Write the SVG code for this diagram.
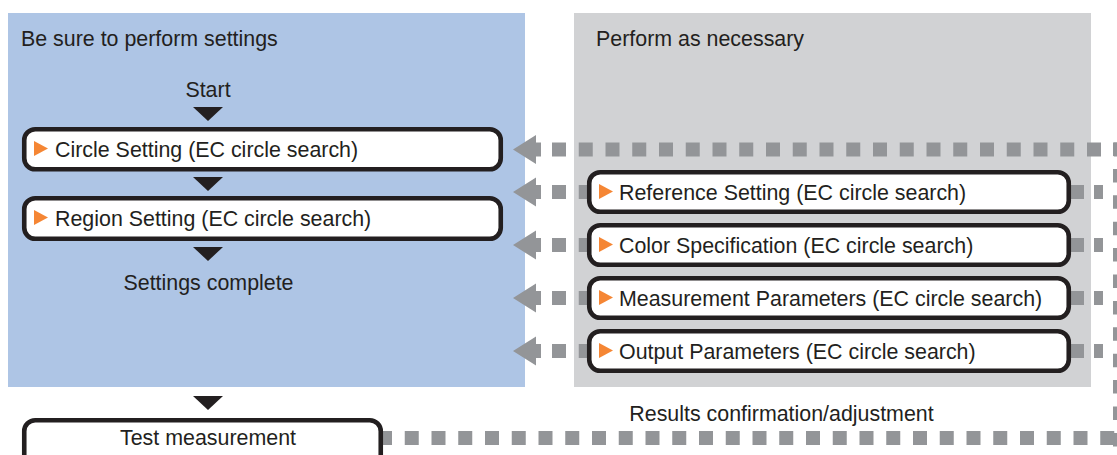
<svg xmlns="http://www.w3.org/2000/svg" width="1117" height="455" viewBox="0 0 1117 455">
<style>
.t{font-family:"Liberation Sans",Arial,sans-serif;font-size:21.4px;fill:#231f20}
.c{text-anchor:middle}
.box{fill:#fff;stroke:#231f20;stroke-width:4.6}
.tri{fill:#231f20}
.or{fill:#f58634}
.dash{stroke:#939598;stroke-width:14;fill:none;stroke-dasharray:14 12.75}
.g{fill:#939598}
</style>
<defs>
<polygon id="ah" points="0,0 23,-14.5 23,-7 28,-7 28,7 23,7 23,14.5" class="g"/>
<polygon id="ot" points="0,-7.5 14,0 0,7.5" class="or"/>
</defs>
<g id="panels">
<rect x="8" y="13" width="517" height="374" fill="#aec5e5"/>
<rect x="574" y="13" width="517" height="374" fill="#d1d2d4"/>
<text class="t" x="21" y="46">Be sure to perform settings</text>
<text class="t" x="596" y="46">Perform as necessary</text>
</g>
<g id="connectors">
<line class="dash" x1="552" y1="149.5" x2="1117" y2="149.5"/>
<line class="dash" x1="1120" y1="142.5" x2="1120" y2="455" style="stroke-dasharray:13.5 12.9"/>
<line class="dash" x1="378" y1="438" x2="1117" y2="438"/>
<use href="#ah" x="513" y="149.5"/>
<g>
<use href="#ah" x="513" y="192"/>
<line class="dash" x1="552" y1="192" x2="600" y2="192"/>
<rect class="g" x="1068" y="185" width="16" height="14"/>
<rect class="g" x="1094" y="185" width="9" height="14"/>
</g>
<g>
<use href="#ah" x="513" y="245"/>
<line class="dash" x1="552" y1="245" x2="600" y2="245"/>
<rect class="g" x="1068" y="238" width="16" height="14"/>
<rect class="g" x="1094" y="238" width="9" height="14"/>
</g>
<g>
<use href="#ah" x="513" y="298"/>
<line class="dash" x1="552" y1="298" x2="600" y2="298"/>
<rect class="g" x="1068" y="291" width="16" height="14"/>
<rect class="g" x="1094" y="291" width="9" height="14"/>
</g>
<g>
<use href="#ah" x="513" y="351"/>
<line class="dash" x1="552" y1="351" x2="600" y2="351"/>
<rect class="g" x="1068" y="344" width="16" height="14"/>
<rect class="g" x="1094" y="344" width="9" height="14"/>
</g>
<polygon class="tri" points="193,107 223,107 208,121"/>
<polygon class="tri" points="193,177 223,177 208,191"/>
<polygon class="tri" points="193,247 223,247 208,261"/>
<polygon class="tri" points="193,396 223,396 208,410"/>
<text class="t c" x="781.5" y="421">Results confirmation/adjustment</text>
</g>
<g id="start"><text class="t c" x="208" y="97">Start</text></g>
<g id="circle-setting">
<rect class="box" x="24.25" y="129.25" width="476.5" height="40" rx="11"/>
<use href="#ot" x="34" y="148.5"/>
<text class="t" x="55" y="157">Circle Setting (EC circle search)</text>
</g>
<g id="region-setting">
<rect class="box" x="24.25" y="198.25" width="476.5" height="40.5" rx="11"/>
<use href="#ot" x="34" y="217.5"/>
<text class="t" x="55" y="226">Region Setting (EC circle search)</text>
</g>
<g id="settings-complete"><text class="t c" x="208.5" y="290">Settings complete</text></g>
<g id="reference-setting">
<rect class="box" x="589.25" y="172.25" width="479.5" height="39.5" rx="11"/>
<use href="#ot" x="599" y="191.5"/>
<text class="t" x="619" y="199.5">Reference Setting (EC circle search)</text>
</g>
<g id="color-specification">
<rect class="box" x="589.25" y="225.25" width="479.5" height="39.5" rx="11"/>
<use href="#ot" x="599" y="244.5"/>
<text class="t" x="619" y="252.5">Color Specification (EC circle search)</text>
</g>
<g id="measurement-parameters">
<rect class="box" x="589.25" y="278.25" width="479.5" height="39.5" rx="11"/>
<use href="#ot" x="599" y="297.5"/>
<text class="t" x="619" y="305.5">Measurement Parameters (EC circle search)</text>
</g>
<g id="output-parameters">
<rect class="box" x="589.25" y="331.25" width="479.5" height="39.5" rx="11"/>
<use href="#ot" x="599" y="350.5"/>
<text class="t" x="619" y="358.5">Output Parameters (EC circle search)</text>
</g>
<g id="test-measurement">
<rect class="box" x="24.25" y="420.25" width="356.5" height="50" rx="11"/>
<text class="t c" x="208" y="445">Test measurement</text>
</g>
</svg>
